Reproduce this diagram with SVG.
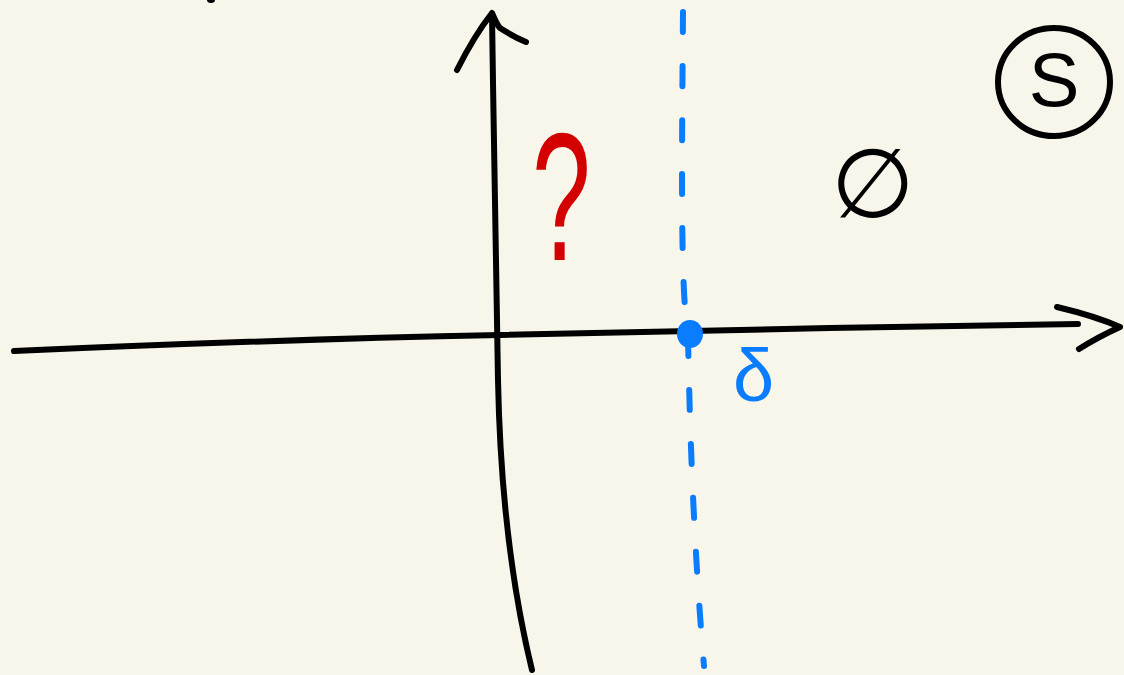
<svg xmlns="http://www.w3.org/2000/svg" width="1124" height="675" viewBox="0 0 1124 675">
<style>
.ink{fill:none;stroke:#000;stroke-width:6;stroke-linecap:round;stroke-linejoin:round}
.blue{fill:none;stroke:#0A7CFF;stroke-width:6;stroke-linecap:round}
.lbl{font-family:"Liberation Sans","DejaVu Sans",sans-serif}
</style>
<rect width="1124" height="675" fill="#F8F6EA"/>
<g id="connectors">
<path class="ink" d="M14,351 C150,345 350,338 500,335 S900,326 1078,324"/>
<path class="ink" d="M1057,307 Q1095,316 1120,327 Q1098,337 1079,349"/>
<path class="ink" d="M532,670 C510,580 500,480 498,380 C496,300 494,150 492,14"/>
<path class="ink" d="M457,70 Q474,36 492,13 Q497,25 500,28 Q514,37 526,42"/>
<path class="blue" stroke-dasharray="20 34" d="M683,12 C682,150 680,290 688,335 C690,450 695,560 704,666"/>
</g>
<g id="mark"><ellipse cx="211" cy="0" rx="4" ry="3" fill="#000"/></g>
<g id="origin-dot"><ellipse cx="690" cy="334" rx="13" ry="14" fill="#0A7CFF"/></g>
<g id="delta"><text class="lbl" x="733" y="401" font-size="74" fill="#0A7CFF">δ</text></g>
<g id="question"><text class="lbl" transform="translate(532,260) scale(0.58,1)" font-size="182" fill="#D40000">?</text></g>
<g id="empty"><text x="831" y="217" font-family="DejaVu Sans,sans-serif" font-size="96" fill="#000">∅</text></g>
<g id="s-node">
<ellipse cx="1054" cy="82" rx="56" ry="54" class="ink" stroke-width="7"/>
<text class="lbl" x="1054" y="106" font-size="76" text-anchor="middle" fill="#000">S</text>
</g>
</svg>
